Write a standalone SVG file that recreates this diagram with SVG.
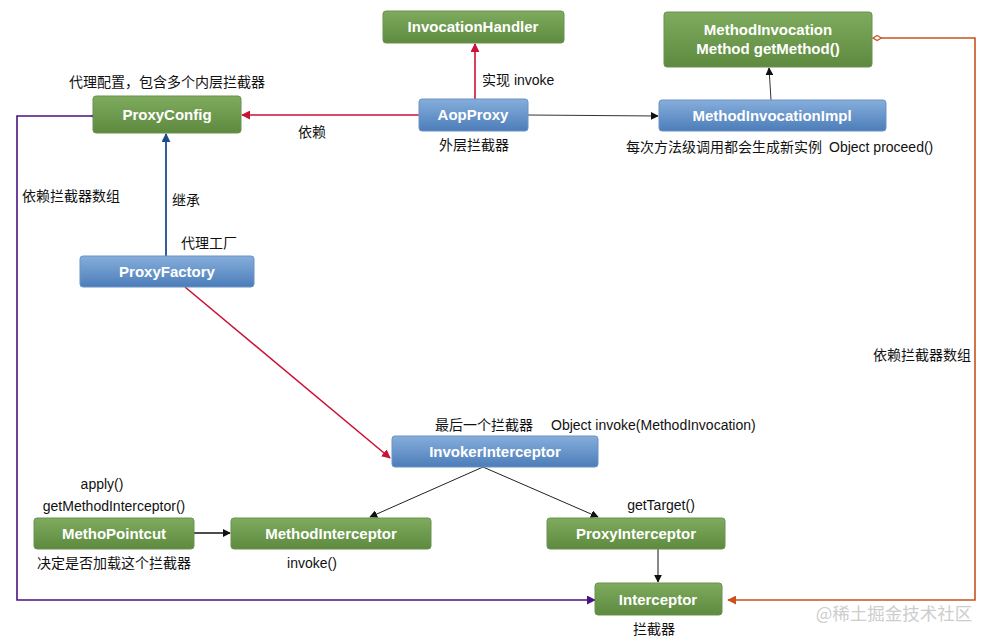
<svg xmlns="http://www.w3.org/2000/svg" width="994" height="643" viewBox="0 0 994 643">
<defs>
<linearGradient id="gG" x1="0" y1="0" x2="0" y2="1"><stop offset="0" stop-color="#7eab5e"/><stop offset="1" stop-color="#5d8a3e"/></linearGradient>
<linearGradient id="gB" x1="0" y1="0" x2="0" y2="1"><stop offset="0" stop-color="#86aedc"/><stop offset="1" stop-color="#4c7db9"/></linearGradient>
<marker id="aRed" viewBox="0 0 10 10" refX="9" refY="5" markerWidth="9" markerHeight="9" markerUnits="userSpaceOnUse" orient="auto"><path d="M0,0 L10,5 L0,10 z" fill="#cc1136"/></marker>
<marker id="aBlk" viewBox="0 0 10 10" refX="9" refY="5" markerWidth="8" markerHeight="8" markerUnits="userSpaceOnUse" orient="auto"><path d="M0,0 L10,5 L0,10 z" fill="#111"/></marker>
<marker id="aBlu" viewBox="0 0 10 10" refX="9" refY="5" markerWidth="9" markerHeight="9" markerUnits="userSpaceOnUse" orient="auto"><path d="M0,0 L10,5 L0,10 z" fill="#1d4c8a"/></marker>
<marker id="aPur" viewBox="0 0 10 10" refX="9" refY="5" markerWidth="9" markerHeight="9" markerUnits="userSpaceOnUse" orient="auto"><path d="M0,0 L10,5 L0,10 z" fill="#4a1283"/></marker>
<marker id="aOra" viewBox="0 0 10 10" refX="9" refY="5" markerWidth="9" markerHeight="9" markerUnits="userSpaceOnUse" orient="auto"><path d="M0,0 L10,5 L0,10 z" fill="#c8531f"/></marker>
<marker id="dPur" viewBox="0 0 12 8" refX="11" refY="4" markerWidth="10" markerHeight="7" markerUnits="userSpaceOnUse" orient="auto"><path d="M1,4 L6,1 L11,4 L6,7 z" fill="#fff" stroke="#4a1283" stroke-width="1.5"/></marker>
<marker id="dOra" viewBox="0 0 12 8" refX="1" refY="4" markerWidth="10" markerHeight="7" markerUnits="userSpaceOnUse" orient="auto"><path d="M1,4 L6,1 L11,4 L6,7 z" fill="#fff" stroke="#c8531f" stroke-width="1.5"/></marker>
</defs>
<style>
.g{fill:url(#gG);stroke:#6a9250;stroke-width:1}
.b{fill:url(#gB);stroke:#6a93c4;stroke-width:1}
.nt{font-family:"Liberation Sans",Arial,sans-serif;font-weight:bold;font-size:15px;fill:#fff;text-anchor:middle}
.lb{font-family:"Liberation Sans","Noto Sans CJK SC",sans-serif;font-size:14px;fill:#111}
.c{text-anchor:middle}
</style>
<rect width="994" height="643" fill="#fff"/>

<g id="connectors" fill="none">
<line x1="475" y1="99" x2="475" y2="44" stroke="#cc1136" stroke-width="1.6" marker-end="url(#aRed)"/>
<line x1="419" y1="115" x2="242" y2="115" stroke="#cc1136" stroke-width="1.6" marker-end="url(#aRed)"/>
<line x1="528" y1="115" x2="658" y2="116" stroke="#333" stroke-width="1" marker-end="url(#aBlk)"/>
<line x1="771" y1="100" x2="769" y2="68" stroke="#333" stroke-width="1" marker-end="url(#aBlk)"/>
<line x1="166" y1="256" x2="166" y2="134" stroke="#1d4c8a" stroke-width="1.8" marker-end="url(#aBlu)"/>
<line x1="185" y1="287" x2="390" y2="458" stroke="#cc1136" stroke-width="1.6" marker-end="url(#aRed)"/>
<line x1="483" y1="467" x2="370" y2="517" stroke="#222" stroke-width="1" marker-end="url(#aBlk)"/>
<line x1="483" y1="467" x2="598" y2="517" stroke="#222" stroke-width="1" marker-end="url(#aBlk)"/>
<line x1="194" y1="533" x2="230" y2="533" stroke="#111" stroke-width="1.6" marker-end="url(#aBlk)"/>
<line x1="658" y1="549" x2="658" y2="582" stroke="#111" stroke-width="1" marker-end="url(#aBlk)"/>
<polyline points="92,116 17,116 17,600 595,600" stroke="#4a1283" stroke-width="1.6" marker-start="url(#dPur)" marker-end="url(#aPur)"/>
<polyline points="873,38 975,38 975,600 728,600" stroke="#c8531f" stroke-width="1.6" marker-start="url(#dOra)" marker-end="url(#aOra)"/>
</g>

<g id="InvocationHandler"><rect class="g" x="383" y="11" width="181" height="32" rx="3"/><text class="nt" x="473" y="32">InvocationHandler</text></g>
<g id="MethodInvocation"><rect class="g" x="664" y="12" width="208" height="55" rx="3"/><text class="nt" x="768" y="35">MethodInvocation</text><text class="nt" x="768" y="54">Method getMethod()</text></g>
<g id="ProxyConfig"><rect class="g" x="93" y="96" width="148" height="37" rx="3"/><text class="nt" x="167" y="120">ProxyConfig</text></g>
<g id="AopProxy"><rect class="b" x="419" y="99" width="109" height="32" rx="3"/><text class="nt" x="473" y="120">AopProxy</text></g>
<g id="MethodInvocationImpl"><rect class="b" x="659" y="100" width="227" height="31" rx="3"/><text class="nt" x="772" y="121">MethodInvocationImpl</text></g>
<g id="ProxyFactory"><rect class="b" x="80" y="256" width="174" height="31" rx="3"/><text class="nt" x="167" y="277">ProxyFactory</text></g>
<g id="InvokerInterceptor"><rect class="b" x="392" y="436" width="206" height="31" rx="3"/><text class="nt" x="495" y="457">InvokerInterceptor</text></g>
<g id="MethoPointcut"><rect class="g" x="34" y="518" width="160" height="31" rx="3"/><text class="nt" x="114" y="539">MethoPointcut</text></g>
<g id="MethodInterceptor"><rect class="g" x="231" y="518" width="200" height="31" rx="3"/><text class="nt" x="331" y="539">MethodInterceptor</text></g>
<g id="ProxyInterceptor"><rect class="g" x="547" y="518" width="178" height="31" rx="3"/><text class="nt" x="636" y="539">ProxyInterceptor</text></g>
<g id="Interceptor"><rect class="g" x="595" y="583" width="127" height="32" rx="3"/><text class="nt" x="658" y="605">Interceptor</text></g>

<g id="labels">
<text class="lb" x="482" y="85">实现 invoke</text>
<text class="lb c" x="474" y="150">外层拦截器</text>
<text class="lb" x="626" y="152">每次方法级调用都会生成新实例</text>
<text class="lb" x="829" y="152">Object proceed()</text>
<text class="lb c" x="167" y="87">代理配置，包含多个内层拦截器</text>
<text class="lb" x="298" y="137">依赖</text>
<text class="lb" x="22" y="201">依赖拦截器数组</text>
<text class="lb" x="172" y="205">继承</text>
<text class="lb" x="181" y="248">代理工厂</text>
<text class="lb" x="873" y="360">依赖拦截器数组</text>
<text class="lb" x="435" y="430">最后一个拦截器</text>
<text class="lb" x="551" y="430">Object invoke(MethodInvocation)</text>
<text class="lb c" x="102" y="489">apply()</text>
<text class="lb c" x="114" y="511">getMethodInterceptor()</text>
<text class="lb c" x="114" y="568">决定是否加载这个拦截器</text>
<text class="lb c" x="312" y="568">invoke()</text>
<text class="lb c" x="661" y="510">getTarget()</text>
<text class="lb c" x="654" y="634">拦截器</text>
<text x="894" y="620" font-family="'Noto Sans CJK SC',sans-serif" font-size="17.5" fill="#cdcdcd" text-anchor="middle">@稀土掘金技术社区</text>
</g>
</svg>
